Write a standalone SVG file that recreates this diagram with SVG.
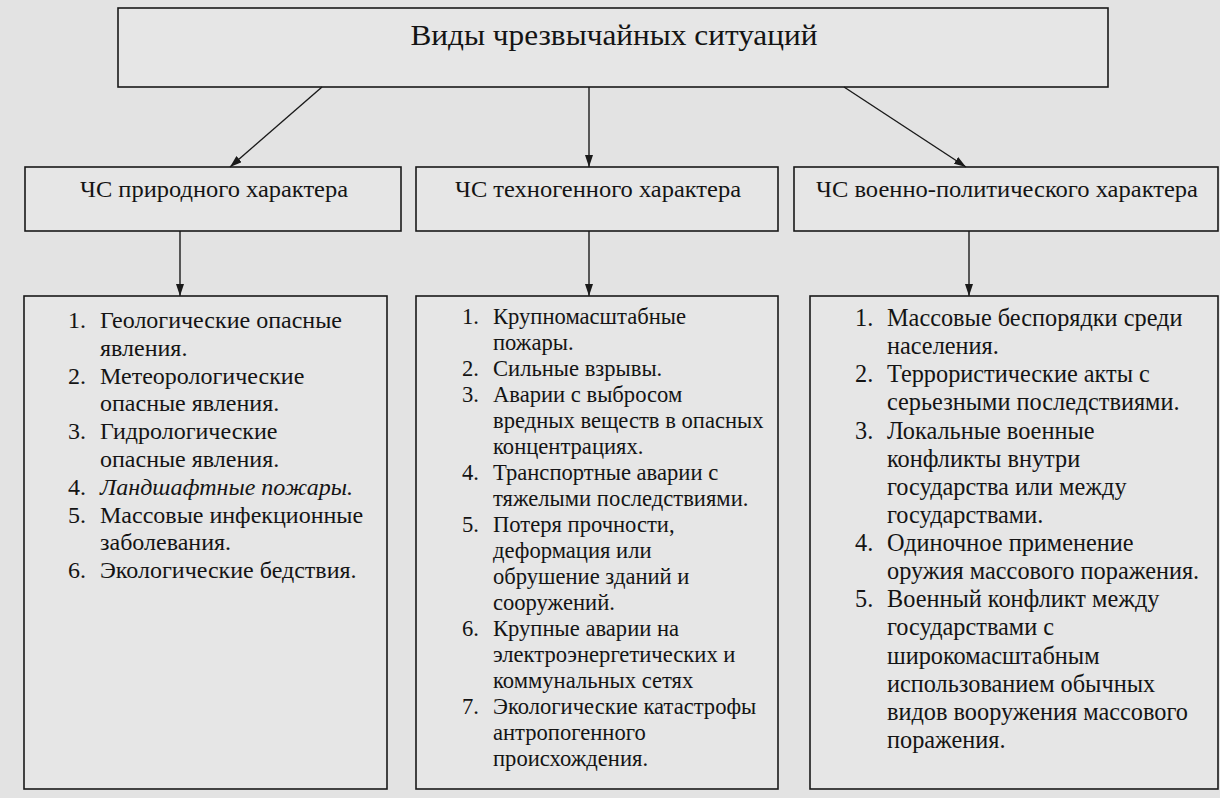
<svg xmlns="http://www.w3.org/2000/svg" width="1220" height="798" viewBox="0 0 1220 798">
<style>
.bg{fill:#e3e3e3}
.box{fill:#e6e6e6;stroke:#1a1a1a;stroke-width:1.6}
.conn line{stroke:#1a1a1a;stroke-width:1.4}
text{font-family:"Liberation Serif","Times New Roman",serif;fill:#141414}
.title{font-size:29px}
.head{font-size:24px}
.l{font-family:"DejaVu Serif","Liberation Serif",serif;font-size:24px}
.m{font-size:22.6px}
.r{font-size:24.3px}
.it{font-style:italic}
</style>
<defs>
<marker id="arr" viewBox="0 0 12 8" refX="12" refY="4" markerWidth="12" markerHeight="8" markerUnits="userSpaceOnUse" orient="auto">
<path d="M0,0 L12,4 L0,8 Z" fill="#1a1a1a"/>
</marker>
</defs>
<rect class="bg" x="0" y="0" width="1220" height="798"/>

<g id="root">
<rect class="box" x="118" y="8" width="990" height="79"/>
<text class="title" x="614" y="45" text-anchor="middle" textLength="407" lengthAdjust="spacingAndGlyphs">Виды чрезвычайных ситуаций</text>
</g>

<g id="natural">
<rect class="box" x="25" y="167" width="376" height="64"/>
<text class="head" x="214" y="197" text-anchor="middle" textLength="268" lengthAdjust="spacingAndGlyphs">ЧС природного характера</text>
</g>
<g id="technogenic">
<rect class="box" x="416" y="167" width="362" height="64"/>
<text class="head" x="598" y="197" text-anchor="middle" textLength="286" lengthAdjust="spacingAndGlyphs">ЧС техногенного характера</text>
</g>
<g id="military">
<rect class="box" x="794" y="167" width="424" height="64"/>
<text class="head" x="1007" y="197" text-anchor="middle" textLength="382" lengthAdjust="spacingAndGlyphs">ЧС военно-политического характера</text>
</g>

<g id="natural-list">
<rect class="box" x="24" y="296" width="363" height="493"/>
<g class="l">
<text x="68" y="328">1.</text><text x="100" y="328">Геологические опасные</text>
<text x="100" y="355.8">явления.</text>
<text x="68" y="383.6">2.</text><text x="100" y="383.6">Метеорологические</text>
<text x="100" y="411.4">опасные явления.</text>
<text x="68" y="439.2">3.</text><text x="100" y="439.2">Гидрологические</text>
<text x="100" y="467">опасные явления.</text>
<text x="68" y="494.8">4.</text><text class="it" x="100" y="494.8">Ландшафтные пожары.</text>
<text x="68" y="522.6">5.</text><text x="100" y="522.6">Массовые инфекционные</text>
<text x="100" y="550.4">заболевания.</text>
<text x="68" y="578.2">6.</text><text x="100" y="578.2">Экологические бедствия.</text>
</g>
</g>

<g id="technogenic-list">
<rect class="box" x="416" y="296" width="362" height="493"/>
<g class="m">
<text x="462" y="324">1.</text><text x="493" y="324">Крупномасштабные</text>
<text x="493" y="350">пожары.</text>
<text x="462" y="376">2.</text><text x="493" y="376">Сильные взрывы.</text>
<text x="462" y="402">3.</text><text x="493" y="402">Аварии с выбросом</text>
<text x="493" y="428">вредных веществ в опасных</text>
<text x="493" y="454">концентрациях.</text>
<text x="462" y="480">4.</text><text x="493" y="480">Транспортные аварии с</text>
<text x="493" y="506">тяжелыми последствиями.</text>
<text x="462" y="532">5.</text><text x="493" y="532">Потеря прочности,</text>
<text x="493" y="558">деформация или</text>
<text x="493" y="584">обрушение зданий и</text>
<text x="493" y="610">сооружений.</text>
<text x="462" y="636">6.</text><text x="493" y="636">Крупные аварии на</text>
<text x="493" y="662">электроэнергетических и</text>
<text x="493" y="688">коммунальных сетях</text>
<text x="462" y="714">7.</text><text x="493" y="714">Экологические катастрофы</text>
<text x="493" y="740">антропогенного</text>
<text x="493" y="766">происхождения.</text>
</g>
</g>

<g id="military-list">
<rect class="box" x="810" y="296" width="408" height="493"/>
<g class="r">
<text x="855" y="326">1.</text><text x="887" y="326">Массовые беспорядки среди</text>
<text x="887" y="354.1">населения.</text>
<text x="855" y="382.3">2.</text><text x="887" y="382.3">Террористические акты с</text>
<text x="887" y="410.4">серьезными последствиями.</text>
<text x="855" y="438.5">3.</text><text x="887" y="438.5">Локальные военные</text>
<text x="887" y="466.6">конфликты внутри</text>
<text x="887" y="494.8">государства или между</text>
<text x="887" y="522.9">государствами.</text>
<text x="855" y="551">4.</text><text x="887" y="551">Одиночное применение</text>
<text x="887" y="579.2">оружия массового поражения.</text>
<text x="855" y="607.3">5.</text><text x="887" y="607.3">Военный конфликт между</text>
<text x="887" y="635.4">государствами с</text>
<text x="887" y="663.6">широкомасштабным</text>
<text x="887" y="691.7">использованием обычных</text>
<text x="887" y="719.8">видов вооружения массового</text>
<text x="887" y="748">поражения.</text>
</g>
</g>

<g id="connectors" class="conn">
<line x1="322" y1="87" x2="230" y2="167" marker-end="url(#arr)"/>
<line x1="589" y1="87" x2="589" y2="167" marker-end="url(#arr)"/>
<line x1="844" y1="87" x2="966" y2="167" marker-end="url(#arr)"/>
<line x1="180" y1="231" x2="180" y2="296" marker-end="url(#arr)"/>
<line x1="589" y1="231" x2="589" y2="296" marker-end="url(#arr)"/>
<line x1="969" y1="231" x2="969" y2="296" marker-end="url(#arr)"/>
</g>
</svg>
